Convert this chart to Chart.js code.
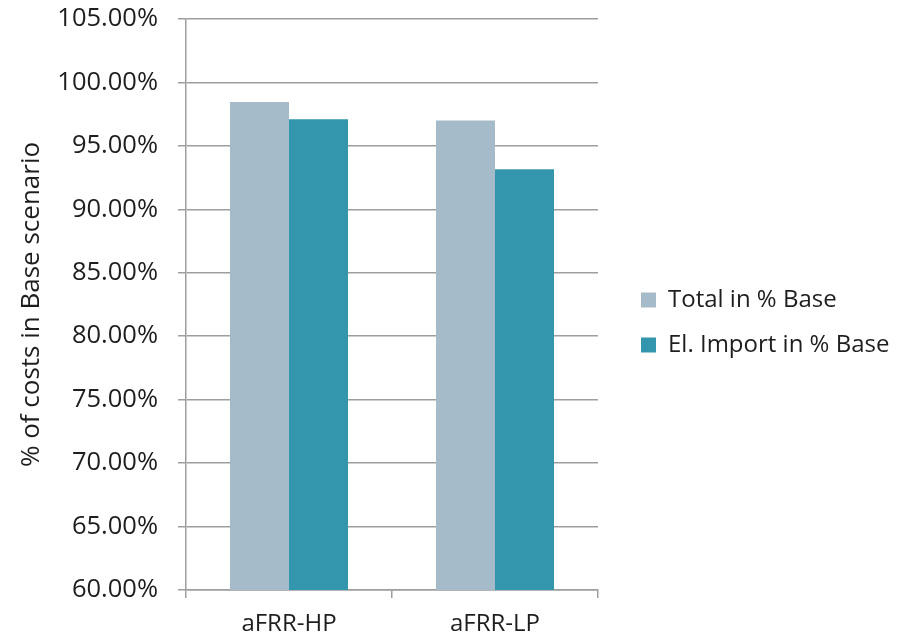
<!DOCTYPE html>
<html>
<head>
<meta charset="utf-8">
<script src="https://cdn.jsdelivr.net/npm/chart.js@4.4.1/dist/chart.umd.min.js"></script>
<style>
  html, body { margin: 0; padding: 0; background: #fff; }
</style>
</head>
<body>
<canvas id="myChart" width="897" height="636"></canvas>
<script>
  // values (% of Base)
  var categories = ['aFRR-HP', 'aFRR-LP'];
  var totalInBase = [98.45, 97.0];
  var elImportInBase = [97.1, 93.15];
  var yMin = 60;
  var yMax = 105;
  var yStep = 5;

  var gridColor = '#9e9e9e';
  var textColor = '#1e1e1e';
  var fam = "'Open Sans', 'Noto Sans', sans-serif";

  // legend box takes a fixed width on the right, and sits a bit off the plot
  var legendBox = {
    id: 'legendBox',
    afterInit: function(chart) {
      var lg = chart.legend;
      var fit = lg.fit;
      lg.fit = function() { fit.call(this); this.width = 299; };
    },
    afterLayout: function(chart) {
      var lg = chart.legend;
      lg.left += 22; lg.right += 22;
      lg.top -= 5; lg.bottom -= 5;
    }
  };

  var ctx = document.getElementById('myChart');
  var myChart = new Chart(ctx, {
    type: 'bar',
    data: {
      labels: categories,
      datasets: [
        {
          label: 'Total in % Base',
          data: totalInBase,
          backgroundColor: '#a5bbc9',
          categoryPercentage: 0.573,
          barPercentage: 1.0
        },
        {
          label: 'El. Import in % Base',
          data: elImportInBase,
          backgroundColor: '#3396ac',
          categoryPercentage: 0.573,
          barPercentage: 1.0
        }
      ]
    },
    options: {
      responsive: false,
      animation: false,
      layout: { padding: { left: 8, top: 19, right: 0, bottom: 0 } },
      plugins: {
        tooltip: { enabled: false },
        legend: {
          position: 'right',
          labels: {
            color: textColor,
            font: { family: fam, size: 24 },
            boxWidth: 15,
            boxHeight: 15,
            padding: 21
          }
        }
      },
      scales: {
        x: {
          afterFit: function(scale) { scale.height = 46; },
          grid: {
            offset: true,
            drawOnChartArea: false,
            color: gridColor,
            lineWidth: 1.5,
            tickLength: 8
          },
          border: { display: true, color: gridColor, width: 1.5 },
          ticks: { color: textColor, font: { family: fam, size: 24 }, padding: 12 }
        },
        y: {
          min: yMin,
          max: yMax,
          afterFit: function(scale) {
            scale.width = 178;
            scale.paddingTop = 0;
            scale.paddingBottom = 0;
          },
          title: {
            display: true,
            text: '% of costs in Base scenario',
            color: textColor,
            font: { family: fam, size: 26 },
            padding: { top: 8, bottom: 0 }
          },
          grid: {
            color: gridColor,
            lineWidth: 1.5,
            tickLength: 8
          },
          border: { display: true, color: gridColor, width: 1.5 },
          ticks: {
            stepSize: yStep,
            color: textColor,
            font: { family: fam, size: 25.5 },
            padding: 20,
            callback: function(v) { return v.toFixed(2) + '%'; }
          }
        }
      }
    },
    plugins: [legendBox]
  });
</script>
</body>
</html>
